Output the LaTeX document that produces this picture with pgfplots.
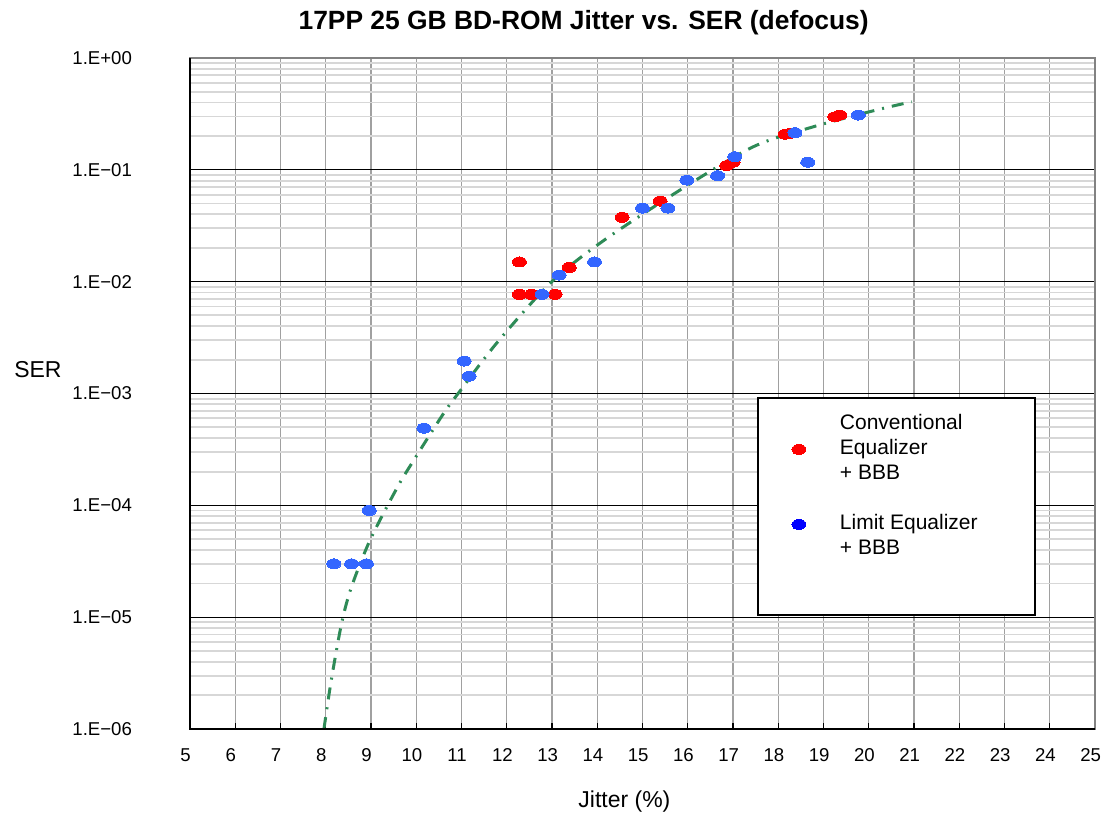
\documentclass[border=0pt]{standalone}
\usepackage{fontspec}
\setmainfont{Liberation Sans}
\usepackage{pgfplots}
\pgfplotsset{compat=1.18}
\definecolor{myred}{RGB}{255,0,0}
\definecolor{myblue}{RGB}{51,102,255}
\definecolor{legblue}{RGB}{0,0,255}
\definecolor{fitgreen}{RGB}{46,139,87}
\definecolor{gridgray}{RGB}{160,160,160}
\definecolor{minorgray}{RGB}{215,215,215}
\definecolor{framegray}{RGB}{130,130,130}
\begin{document}
\begin{tikzpicture}
\path[use as bounding box] (-95pt,-43.5pt) rectangle (456pt,364.5pt);
\begin{axis}[
  name=ax,
  at={(0pt,0pt)}, anchor=south west,
  scale only axis,
  width=452.5pt, height=335.5pt,
  xmin=5, xmax=25,
  ymode=log, ymin=1e-6, ymax=1,
  xtick={5,6,...,25},
  ytick={1e-6,1e-5,1e-4,1e-3,1e-2,1e-1,1},
  yticklabels={1.E−06,1.E−05,1.E−04,1.E−03,1.E−02,1.E−01,1.E+00},
  minor ytick={2e-6,3e-6,4e-6,5e-6,6e-6,7e-6,8e-6,9e-6,
               2e-5,3e-5,4e-5,5e-5,6e-5,7e-5,8e-5,9e-5,
               2e-4,3e-4,4e-4,5e-4,6e-4,7e-4,8e-4,9e-4,
               2e-3,3e-3,4e-3,5e-3,6e-3,7e-3,8e-3,9e-3,
               2e-2,3e-2,4e-2,5e-2,6e-2,7e-2,8e-2,9e-2,
               0.2,0.3,0.4,0.5,0.6,0.7,0.8,0.9},
  /pgf/number format/assume math mode=true,
  ticklabel style={font=\fontsize{9.3}{11}\selectfont},
  xticklabel style={anchor=center, yshift=-13pt, xshift=-2.2pt},
  yticklabel style={anchor=east, xshift=-25.5pt},
  xmajorgrids=true, ymajorgrids=true, yminorgrids=true,
  major x grid style={gridgray, line width=0.6pt},
  major y grid style={black, line width=0.6pt},
  minor y grid style={minorgray, line width=0.9pt},
  tick align=inside,
  xtick pos=bottom, ytick pos=left,
  major tick length=3pt, minor tick length=0pt,
  tick style={black, line width=0.6pt},
  axis line style={framegray, line width=1pt},
  title={17PP 25 GB BD-ROM Jitter vs. SER (defocus)},
  title style={font=\bfseries\fontsize{13.2}{15}\selectfont, at={(axis description cs:0.435,1)}, anchor=center, yshift=11.5pt},
  xlabel={Jitter (\%)},
  xlabel style={font=\fontsize{11.5}{13}\selectfont, at={(axis description cs:0.48,0)}, anchor=center, yshift=-36.5pt},
  ylabel={SER},
  ylabel style={font=\fontsize{11.5}{13}\selectfont, rotate=-90, at={(axis description cs:-0.168,0.536)}, anchor=center},
  legend cell align=left,
  legend style={at={(rel axis cs:0.6265,0.4948)}, anchor=north west, draw=black, line width=1pt,
    fill=white, inner xsep=0pt, inner ysep=7pt, row sep=0pt, column sep=0pt,
    font=\fontsize{10.5}{12.5}\selectfont,
    nodes={inner sep=0pt, text depth=}},
  legend image code/.code={\path[draw=none,fill=none] (-20.5pt,-1pt) rectangle (20.5pt,1pt); \path[draw=none,#1] plot coordinates {(0pt,0pt)};},
  after end axis/.code={\draw[black, line width=1pt] (rel axis cs:0,1) -- (rel axis cs:0,0) -- (rel axis cs:1,0);},
]
\addlegendimage{only marks, mark=*, mark size=2.5pt, mark options={xscale=1.4, fill=myred, draw=myred, line width=0pt}}
\addlegendentry{\begin{tabular}[c]{@{}p{97.5pt}@{}}Conventional\\Equalizer\\+ BBB\end{tabular}}
\addlegendimage{only marks, mark=*, mark size=2.5pt, mark options={xscale=1.4, fill=legblue, draw=legblue, line width=0pt}}
\addlegendentry{\begin{tabular}[c]{@{}p{97.5pt}@{}}\\Limit Equalizer\\+ BBB\end{tabular}}
\addlegendimage{empty legend}
\addlegendentry{\rule{0pt}{19.5pt}}

% Conventional Equalizer + BBB
\addplot[only marks, mark=*, mark size=2.5pt, mark options={xscale=1.4, fill=myred, draw=myred, line width=0pt}, forget plot] coordinates {
(12.28,0.0150) (12.28,0.0077) (12.55,0.0077) (13.07,0.0077) (13.38,0.0134)
(14.55,0.0376) (15.39,0.0526) (16.86,0.109) (17.00,0.117)
(18.15,0.208) (18.26,0.212) (19.25,0.298) (19.36,0.309)
};
% Limit Equalizer + BBB
\addplot[only marks, mark=*, mark size=2.5pt, mark options={xscale=1.4, fill=myblue, draw=myblue, line width=0pt}, forget plot] coordinates {
(8.18,3.0e-5) (8.57,3.0e-5) (8.90,3.0e-5) (8.96,9.0e-5) (10.17,4.9e-4)
(11.06,1.95e-3) (11.17,1.43e-3) (12.78,0.0077) (13.16,0.01145) (13.94,0.0150)
(15.00,0.0455) (15.56,0.0455) (15.98,0.081) (16.66,0.0886) (17.04,0.131)
(18.37,0.215) (18.65,0.117) (19.77,0.309)
};
% fit curve
\addplot[fitgreen, line width=1.5pt, smooth, dash pattern=on 6pt off 4pt on 1pt off 4pt, forget plot] coordinates {
(7.96,1e-6) (8.12,2.7e-6) (8.35,8.8e-6) (8.57,1.87e-5) (8.98,4.9e-5) (9.57,1.42e-4)
(9.90,2.37e-4) (10.6,6.6e-4) (10.98,1.07e-3) (11.77,2.8e-3) (12.96,9.7e-3)
(14.1,0.0227) (15.83,0.066) (17.45,0.161) (18.78,0.243) (20.17,0.343) (20.95,0.406)
};
\end{axis}
\end{tikzpicture}
\end{document}
